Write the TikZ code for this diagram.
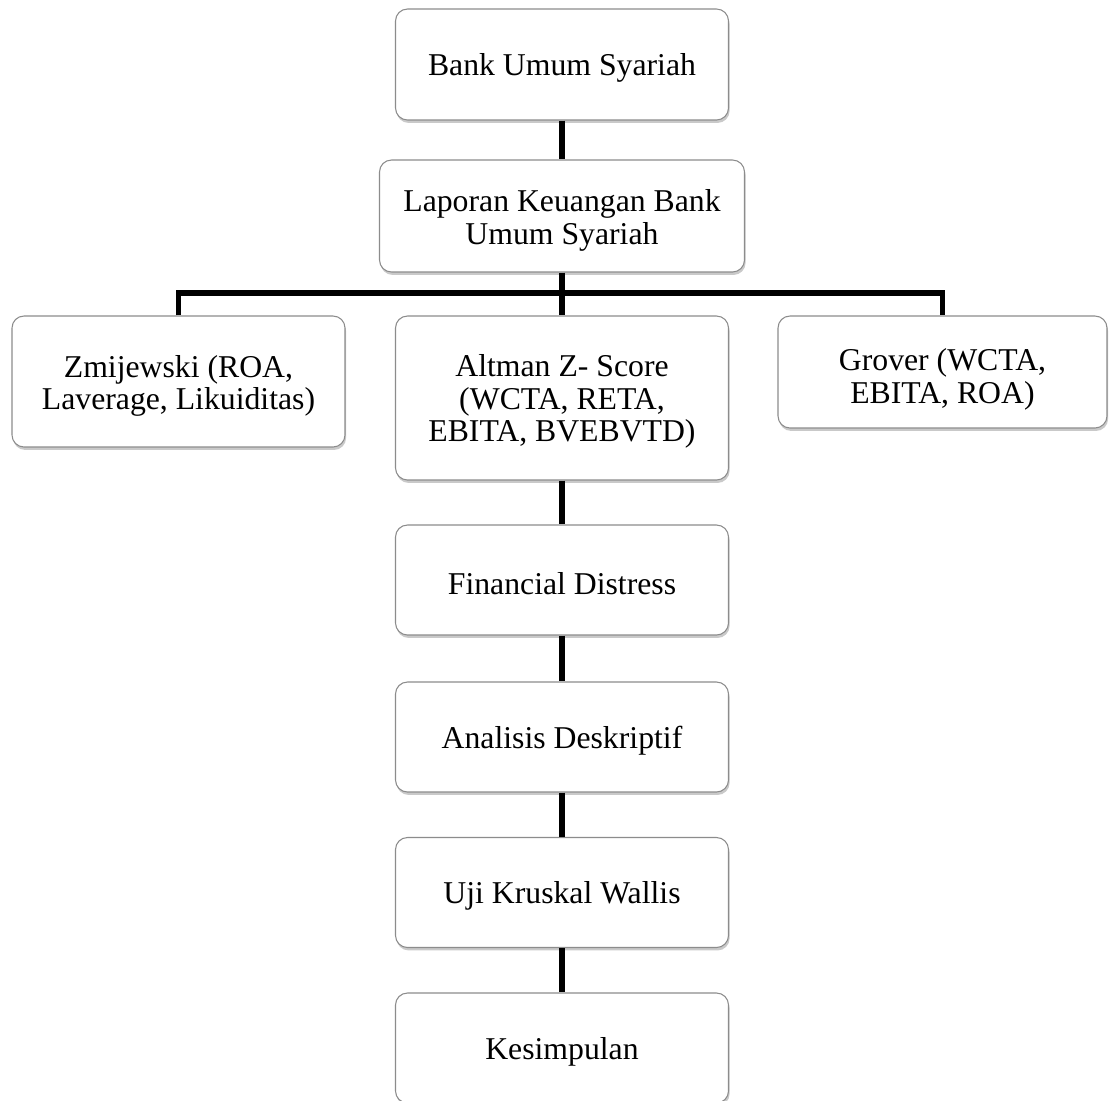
\documentclass[tikz,border=0pt]{standalone}
\usepackage{fontspec}
\setmainfont{Liberation Serif}
\usetikzlibrary{shadows}
\newcommand{\dropby}[1]{\rule{0pt}{\dimexpr 17pt+#1\relax}}
\tikzset{
  box/.style={draw=black!45, line width=0.8pt, rounded corners=9pt, fill=white,
    align=center, inner sep=0pt,
    font=\fontsize{23.8}{24.5}\selectfont,
    drop shadow={shadow xshift=0.8pt, shadow yshift=-2.2pt, opacity=0.35, fill=black!60}},
  link/.style={line width=3.8pt, line join=miter, black}
}
\begin{document}
\begin{tikzpicture}[x=0.75pt,y=-0.75pt]
\clip (0,0) rectangle (1109,1100);
\fill[white] (0,0) rectangle (1109,1100);
\node[box, minimum width=249.75pt, minimum height=83.25pt] (bank) at (562,64.5) {\dropby{5pt}Bank Umum Syariah};
\node[box, minimum width=273.75pt, minimum height=84pt] (lap) at (562,216) {\dropby{6pt}Laporan Keuangan Bank\\Umum Syariah};
\node[box, minimum width=249.75pt, minimum height=98.25pt] (zmi) at (178.5,381.5) {\dropby{6pt}Zmijewski (ROA,\\Laverage, Likuiditas)};
\node[box, minimum width=249.75pt, minimum height=123pt] (alt) at (562,398) {\dropby{5pt}Altman Z- Score\\(WCTA, RETA,\\EBITA, BVEBVTD)};
\node[box, minimum width=246.75pt, minimum height=84pt] (gro) at (942.5,372) {\dropby{11pt}Grover (WCTA,\\EBITA, ROA)};
\node[box, minimum width=249.75pt, minimum height=82.5pt] (fin) at (562,580) {\dropby{5pt}Financial Distress};
\node[box, minimum width=249.75pt, minimum height=82.5pt] (ana) at (562,737) {\dropby{5pt}Analisis Deskriptif};
\node[box, minimum width=249.75pt, minimum height=82.5pt] (uji) at (562,892.5) {\dropby{5pt}Uji Kruskal Wallis};
\node[box, minimum width=249.75pt, minimum height=82.5pt] (kes) at (562,1048) {\dropby{5pt}Kesimpulan};
\coordinate (j) at (562,293);
\draw[link] (bank.south) -- (lap.north);
\draw[link] (lap.south) -- (alt.north);
\draw[link] (zmi.north) -- (zmi.north |- j) -- (gro.north |- j) -- (gro.north);
\draw[link] (alt.south) -- (fin.north);
\draw[link] (fin.south) -- (ana.north);
\draw[link] (ana.south) -- (uji.north);
\draw[link] (uji.south) -- (kes.north);
\end{tikzpicture}
\end{document}
